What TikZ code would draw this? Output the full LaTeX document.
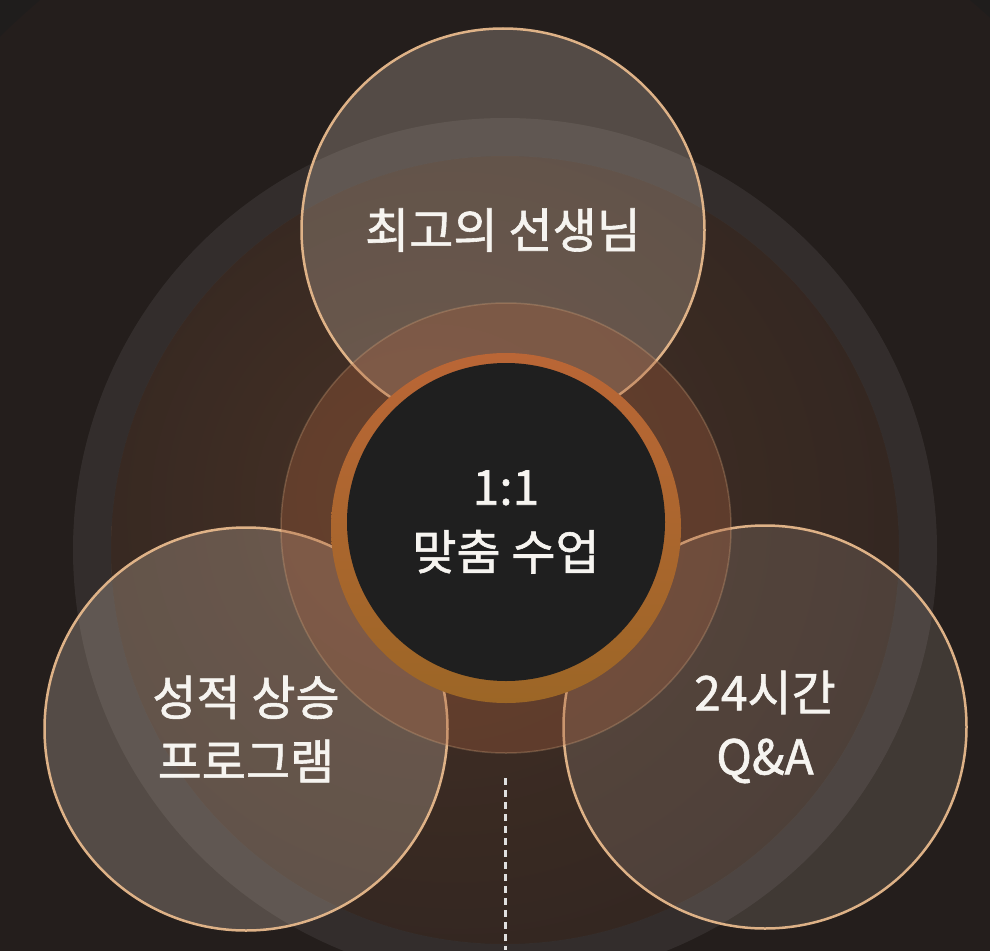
\documentclass[tikz,border=0pt]{standalone}
\usepackage{fontspec}
\setmainfont{Noto Sans CJK KR}
\newfontfamily\labelfont{Noto Sans CJK KR}[FakeBold=1.2]
\usetikzlibrary{positioning}
\definecolor{bg}{RGB}{31,29,28}
\definecolor{halofar}{RGB}{36,30,28}
\definecolor{glowin}{RGB}{70,49,37}
\definecolor{glowout}{RGB}{50,38,33}
\definecolor{peach}{RGB}{231,185,140}
\definecolor{ringtop}{RGB}{186,102,54}
\definecolor{ringbot}{RGB}{156,102,38}
\definecolor{hubfill}{RGB}{31,31,31}
\definecolor{mistfill}{RGB}{240,222,205}
\definecolor{midfill}{RGB}{165,95,62}
\definecolor{labeltext}{RGB}{246,244,240}

\pgfdeclareradialshading{halo}{\pgfpoint{0bp}{0bp}}{color(0bp)=(halofar); color(31bp)=(halofar); color(44bp)=(bg); color(50bp)=(bg)}
\pgfdeclareradialshading{glow}{\pgfpoint{-6bp}{4bp}}{color(0bp)=(glowin); color(30bp)=(glowout); color(50bp)=(glowout)}

\begin{document}
\begin{tikzpicture}[x=1pt, y=-1pt,
    sat/.style={circle, minimum size=403pt, draw=peach, line width=2.5pt,
        fill=mistfill, fill opacity=0.24, draw opacity=0.95, text opacity=1,
        text=labeltext, align=center, font=\labelfont\fontsize{48}{64}\selectfont},
    mid/.style={circle, minimum size=450pt, fill=midfill, fill opacity=0.34,
        draw=peach, draw opacity=0.25, line width=1.5pt},
    ring/.style={circle, minimum size=350pt, top color=ringtop, bottom color=ringbot},
    hub/.style={circle, minimum size=318pt, fill=hubfill, text=labeltext,
        align=center, font=\labelfont\fontsize{48}{65}\selectfont},
    dashline/.style={draw=white!88!black, line width=3pt, dash pattern=on 7pt off 5pt}]

    \useasboundingbox (0,0) rectangle (990,950);
    \clip (0,0) rectangle (990,950);

    % backdrop
    \fill[bg] (0,0) rectangle (990,950);
    \shade[shading=halo] (505,550) circle (720);
    \shade[shading=glow] (505,550) circle (394);
    \draw[white, draw opacity=0.07, line width=38pt] (505,550) circle (413);

    % three outer circles
    \node[sat] (teacher) at (503,230) {최고의 선생님};
    \node[sat] (grade) at (246,729) {성적 상승\\프로그램};
    \node[sat, fill opacity=0.14] (qna) at (765,727) {24시간\\Q\&A};

    % centre
    \node[mid] (halo) at (506,528) {};
    \node[ring] (ring) at (halo) {};
    \node[hub] (hub) at ([yshift=6pt]ring.center) {1:1\\맞춤 수업};

    \coordinate (lineTop) at (505,778);
    \coordinate (lineEnd) at (505,950);
    \draw[dashline] (lineTop) -- (lineEnd);

\end{tikzpicture}
\end{document}
